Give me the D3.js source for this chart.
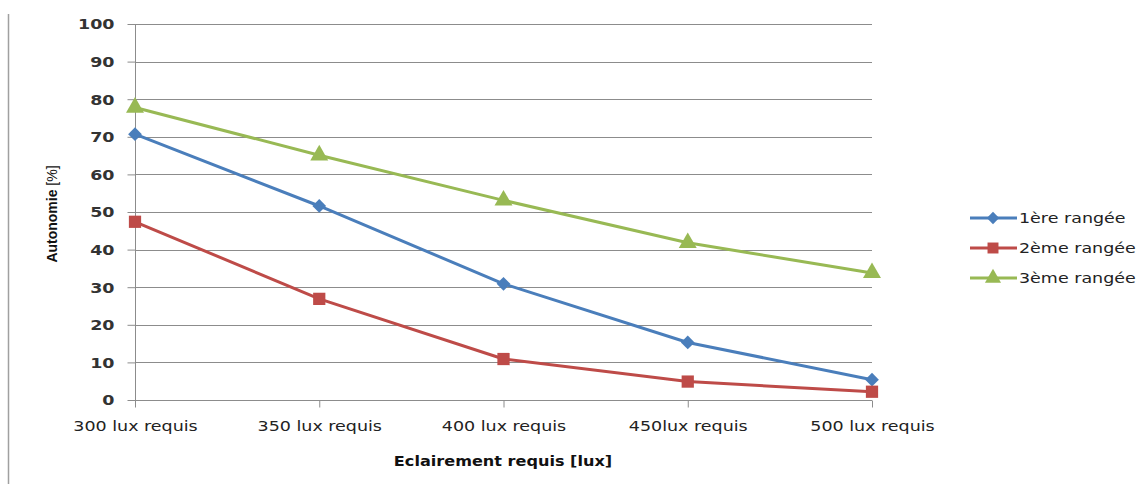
<!DOCTYPE html>
<html><head><meta charset="utf-8">
<script src="https://cdn.jsdelivr.net/npm/d3@7"></script>
<style>body{margin:0;background:#fff}svg{display:block}</style>
</head><body><svg id="c" width="1145" height="484"></svg>
<script>
const categories = ["300 lux requis","350 lux requis","400 lux requis","450lux requis","500 lux requis"];
const seriesNames = ["1ère rangée","2ème rangée","3ème rangée"];
const serie1 = [70.7, 51.6, 30.9, 15.3, 5.4];
const serie2 = [47.4, 26.9, 10.9, 4.9, 2.2];
const serie3 = [77.8, 65.1, 53.1, 41.8, 33.8];
const yTicks = [0,10,20,30,40,50,60,70,80,90,100];
const colors = ["#4A7EBB","#BE4B48","#98B954"];
const symbols = [d3.symbolDiamond2, d3.symbolSquare, d3.symbolTriangle];
const symSizes = [120, 150, 140];

const svg = d3.select("#c");
const font = "Verdana, 'DejaVu Sans', sans-serif";
const SX = 1.25; // horizontal stretch of the reference text
const x = d3.scalePoint().domain(categories).range([135, 872]);
const y = d3.scaleLinear().domain([0,100]).range([400, 24]);

// left border line
svg.append("line").attr("x1",8.5).attr("x2",8.5).attr("y1",14).attr("y2",484).attr("stroke","#a0a0a0").attr("stroke-width",1.5);

// gridlines
svg.append("g").selectAll("line").data(yTicks.filter(d=>d>0)).join("line")
  .attr("x1",135).attr("x2",872).attr("y1",d=>Math.round(y(d))+0.5).attr("y2",d=>Math.round(y(d))+0.5)
  .attr("stroke","#8c8c8c").attr("stroke-width",1);

// y axis
const yAxis = svg.append("g").attr("transform","translate(135.5,0)")
  .call(d3.axisLeft(y).tickValues(yTicks).tickSize(8).tickFormat(d3.format("d")));
yAxis.select(".domain").attr("stroke","#8c8c8c").attr("d","M0,24V400");
yAxis.selectAll(".tick line").attr("stroke","#8c8c8c");
yAxis.selectAll("text").attr("font-family",font).attr("font-size",14).attr("font-weight","bold").attr("fill","#333")
  .attr("x",-21/SX).attr("dy","0.35em").attr("transform",`scale(${SX},1)`);

// x axis
const xAxis = svg.append("g").attr("transform","translate(0,400.5)")
  .call(d3.axisBottom(x).tickSize(7).tickPadding(14).tickSizeOuter(0));
xAxis.select(".domain").attr("stroke","#8c8c8c").attr("d","M135,0H872");
xAxis.selectAll(".tick line").attr("stroke","#8c8c8c");
xAxis.selectAll("text").attr("font-family",font).attr("font-size",14).attr("fill","#222").attr("transform",`scale(${SX},1)`);

// axis titles
const yt = svg.append("text").attr("transform","translate(57,214) rotate(-90)").attr("text-anchor","middle")
  .attr("font-family","'Liberation Sans', Arial, sans-serif").attr("font-size",14).attr("fill","#111");
yt.append("tspan").attr("font-weight","bold").text("Autonomie ");
yt.append("tspan").text("[%]");
svg.append("text").attr("transform",`translate(503,466) scale(1.15,1)`).attr("text-anchor","middle")
  .attr("font-family",font).attr("font-size",14).attr("font-weight","bold").attr("fill","#111").text("Eclairement requis [lux]");

// series
const data = [serie1, serie2, serie3];
const line = d3.line().x((d,i)=>x(categories[i])).y(d=>y(d));
data.forEach((s,k)=>{
  svg.append("path").datum(s).attr("d",line).attr("fill","none").attr("stroke",colors[k]).attr("stroke-width",3).attr("stroke-linejoin","round");
});
data.forEach((s,k)=>{
  svg.append("g").selectAll("path").data(s).join("path")
    .attr("transform",(d,i)=>`translate(${x(categories[i])},${y(d)})`)
    .attr("d",d3.symbol().type(symbols[k]).size(symSizes[k])).attr("fill",colors[k]);
});

// legend
const lg = svg.append("g").selectAll("g").data(seriesNames).join("g")
  .attr("transform",(d,i)=>`translate(970,${218+i*30})`);
lg.append("line").attr("x1",0).attr("x2",47).attr("stroke",(d,i)=>colors[i]).attr("stroke-width",3);
lg.append("path").attr("transform","translate(23,0)")
  .attr("d",(d,i)=>d3.symbol().type(symbols[i]).size(symSizes[i]*0.8)()).attr("fill",(d,i)=>colors[i]);
lg.append("text").attr("transform",`translate(49,0) scale(${SX},1)`).attr("dy","0.35em").attr("font-family",font).attr("font-size",14).attr("fill","#222").text(d=>d);
</script></body></html>
